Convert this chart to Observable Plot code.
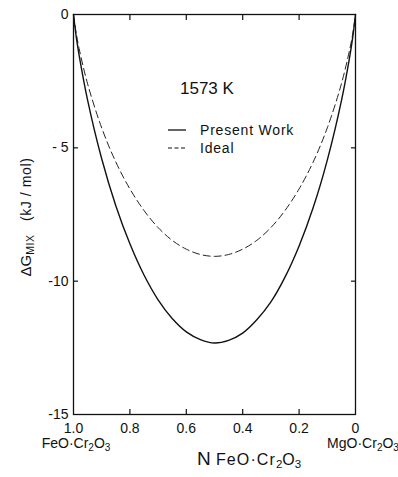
<!DOCTYPE html>
<html><head><meta charset="utf-8">
<script src="https://cdn.jsdelivr.net/npm/d3@7"></script>
<script src="https://cdn.jsdelivr.net/npm/@observablehq/plot@0.6"></script>
<style>body{margin:0;background:#fff}</style>
</head><body><div id="chart"></div>
<script>
// Mole fraction of FeO·Cr2O3 (x axis, reversed: 1.0 on the left)
const nFeO = [1.0, 0.99, 0.98, 0.95, 0.9, 0.85, 0.8, 0.75, 0.7, 0.65, 0.6, 0.55, 0.5, 0.45, 0.4, 0.35, 0.3, 0.25, 0.2, 0.15, 0.1, 0.05, 0.02, 0.01, 0.0];
// ΔG_mix, kJ/mol
const presentWork = [0, -0.86, -1.53, -3.21, -5.41, -7.17, -8.60, -9.77, -10.70, -11.40, -11.90, -12.19, -12.32, -12.22, -11.95, -11.45, -10.78, -9.85, -8.68, -7.24, -5.46, -3.24, -1.55, -0.87, 0];
const ideal = [0, -0.73, -1.28, -2.60, -4.25, -5.53, -6.54, -7.35, -7.99, -8.47, -8.80, -9.00, -9.07, -9.00, -8.80, -8.47, -7.99, -7.35, -6.54, -5.53, -4.25, -2.60, -1.28, -0.73, 0];
const xTicks = [1.0, 0.8, 0.6, 0.4, 0.2, 0];
const xTickLabels = ["1.0", "0.8", "0.6", "0.4", "0.2", "0"];
const xInnerTicks = [0.8, 0.6, 0.4, 0.2];
const yTicks = [0, -5, -10, -15];
const yTickLabels = ["0", "- 5", "-10", "-15"];
const yInnerTicks = [-5, -10];

const rows = nFeO.map((n, i) => ({n, pw: presentWork[i], id: ideal[i]}));
const fmtX = d => xTickLabels[xTicks.indexOf(d)];
const fmtY = d => yTickLabels[yTicks.indexOf(d)];
const none = () => "";

const svg = Plot.plot({
  width: 398, height: 477,
  marginLeft: 73, marginRight: 43, marginTop: 14, marginBottom: 63,
  style: {fontFamily: "'Liberation Sans', Arial, sans-serif", fontSize: "14px", background: "#fff", color: "#111"},
  x: {domain: [1, 0], label: null},
  y: {domain: [-15, 0], label: null},
  marks: [
    Plot.frame({stroke: "#111", strokeWidth: 1.3}),
    Plot.axisX({anchor: "bottom", ticks: xTicks, tickFormat: fmtX, tickSize: 0, tickPadding: 9, fontSize: 14}),
    Plot.axisX({anchor: "bottom", ticks: xInnerTicks, tickFormat: none, tickSize: 5, dy: -5, strokeWidth: 1.2}),
    Plot.axisX({anchor: "top", ticks: xInnerTicks, tickFormat: none, tickSize: 5, dy: 5, strokeWidth: 1.2}),
    Plot.axisY({anchor: "left", ticks: yTicks, tickFormat: fmtY, tickSize: 0, tickPadding: 5, fontSize: 14}),
    Plot.axisY({anchor: "left", ticks: yInnerTicks, tickFormat: none, tickSize: 5, dx: 5, strokeWidth: 1.2}),
    Plot.axisY({anchor: "right", ticks: yInnerTicks, tickFormat: none, tickSize: 5, dx: -5, strokeWidth: 1.2}),
    Plot.line(rows, {x: "n", y: "id", curve: "catmull-rom", stroke: "#222", strokeWidth: 1, strokeDasharray: "7,4"}),
    Plot.line(rows, {x: "n", y: "pw", curve: "catmull-rom", stroke: "#111", strokeWidth: 1.4})
  ]
});

const s = d3.select(svg);
const ff = "'Liberation Sans', Arial, sans-serif";
function formula(g, x, y, parts, anchor) {
  const t = g.append("text").attr("x", x).attr("y", y).attr("font-family", ff)
    .attr("fill", "#111").attr("text-anchor", anchor || "start");
  parts.forEach(p => {
    const ts = t.append("tspan").text(p.t).attr("font-size", p.size);
    if (p.dy) ts.attr("dy", p.dy);
    if (p.ls) ts.attr("letter-spacing", p.ls);
  });
  return t;
}
// compound labels under end ticks
formula(s, 76, 448, [{t: "FeO·Cr", size: 14}, {t: "2", size: 10, dy: 3}, {t: "O", size: 14, dy: -3}, {t: "3", size: 10, dy: 3}], "middle");
formula(s, 363, 448, [{t: "MgO·Cr", size: 14}, {t: "2", size: 10, dy: 3}, {t: "O", size: 14, dy: -3}, {t: "3", size: 10, dy: 3}], "middle");
// x title
formula(s, 197, 465, [{t: "N ", size: 19}, {t: "FeO·Cr", size: 16, ls: 1.1}, {t: "2", size: 11.5, dy: 3}, {t: "O", size: 16, dy: -3}, {t: "3", size: 11.5, dy: 3}]);
// y title
const yt = formula(s, 0, 0, [{t: "ΔG", size: 15}, {t: "MIX", size: 10.5, dy: 3, ls: 0.5}, {t: "   (kJ / mol)", size: 14, dy: -3, ls: 0.6}], "middle");
yt.attr("transform", "translate(31,217) rotate(-90)");
// annotation + legend
const lab = (x, y, size, str) => s.append("text").attr("x", x).attr("y", y).attr("font-family", ff)
  .attr("font-size", size).attr("text-anchor", "start").attr("fill", "#111").text(str);
lab(180, 94, 17, "1573 K");
lab(200, 135, 14, "Present Work").attr("letter-spacing", 0.8);
lab(200, 153, 14, "Ideal").attr("letter-spacing", 0.8);
s.append("line").attr("x1", 168).attr("x2", 186).attr("y1", 130).attr("y2", 130).attr("stroke", "#111").attr("stroke-width", 1.3);
s.append("line").attr("x1", 168).attr("x2", 186).attr("y1", 148).attr("y2", 148).attr("stroke", "#111").attr("stroke-width", 1.2).attr("stroke-dasharray", "4,2.5");

document.getElementById("chart").appendChild(svg);
</script>
</body></html>
